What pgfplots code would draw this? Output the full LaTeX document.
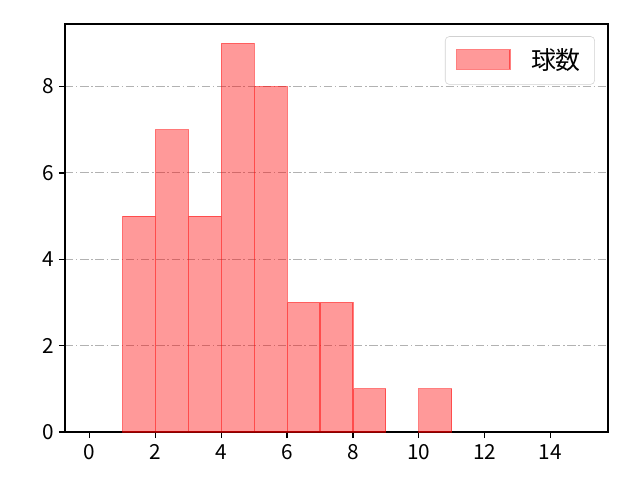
\documentclass[border=0pt]{standalone}
\usepackage{pgfplots}
\pgfplotsset{compat=1.18}
\usepackage{fontspec}
\setmainfont{Noto Sans CJK JP}

\begin{document}
\begin{tikzpicture}
  \path (-0.65in,-0.48in) rectangle (5.75in,4.32in);
  \begin{axis}[
      at={(0,0)}, anchor=south west,
      scale only axis,
      width=5.43in, height=4.08in,
      xmin=-0.75, xmax=15.75,
      ymin=0, ymax=9.45,
      xtick={0,2,...,14},
      ytick={0,2,...,8},
      tick align=outside,
      major tick length=0.06in,
      tick style={black, line width=1pt},
      axis line style={line width=1.1pt, black},
      ymajorgrids,
      grid style={dash pattern=on 6pt off 2pt on 1pt off 2pt, color=black!30, line width=0.7pt},
      xtick pos=bottom, ytick pos=left,
      /pgf/number format/assume math mode=true,
      tick label style={font=\fontsize{15}{18}\selectfont},
      xticklabel style={yshift=-1pt},
      legend style={at={(0.976,0.97)}, anchor=north east,
        draw=black!18, rounded corners=3pt,
        font=\fontsize{18}{21}\selectfont,
        inner xsep=8pt, inner ysep=7pt},
      legend cell align=left,
      legend image code/.code={%
        \draw[#1, sharp corners] (0cm,-0.22cm) rectangle (1.35cm,0.27cm);},
    ]
    \addplot[ybar interval, fill=red, fill opacity=0.4, draw=red, draw opacity=0.5, line width=0.8pt]
      coordinates {(1,5) (2,7) (3,5) (4,9) (5,8) (6,3) (7,3) (8,1) (9,1)};
    \addlegendentry{\hspace{0.45cm}球数}
    \addplot[ybar interval, fill=red, fill opacity=0.4, draw=red, draw opacity=0.5, line width=0.8pt, forget plot]
      coordinates {(10,1) (11,1)};
  \end{axis}
\end{tikzpicture}
\end{document}
